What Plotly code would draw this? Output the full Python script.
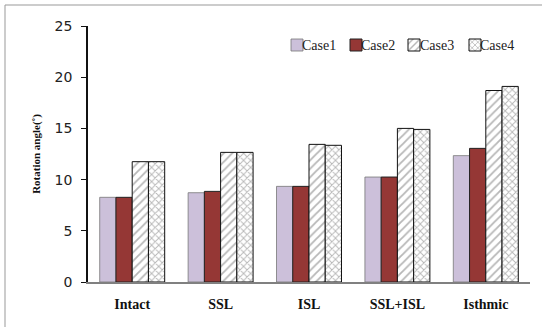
import plotly.graph_objects as go

categories = ["Intact", "SSL", "ISL", "SSL+ISL", "Isthmic"]
series_names = ["Case1", "Case2", "Case3", "Case4"]
case1 = [8.27, 8.72, 9.34, 10.25, 12.34]
case2 = [8.27, 8.85, 9.34, 10.25, 13.05]
case3 = [11.75, 12.66, 13.44, 15.0, 18.7]
case4 = [11.75, 12.66, 13.35, 14.9, 19.1]
y_ticks = [0, 5, 10, 15, 20, 25]

serif = "Liberation Serif, Times New Roman, serif"
sans = "DejaVu Sans, Verdana, sans-serif"

W, H = 542, 327
PL, PR, PT, PB = 88, 530, 26, 282          # plot area in window pixels
L, R, T, B = PL, W - PR, PT, H - PB
PW, PH = PR - PL, PB - PT

def px_x(p):
    return (p - PL) / PW

def px_y(p):
    return (PB - p) / PH

styles = [
    dict(color="#CCC0DA", line=dict(color="#777777", width=0.8)),
    dict(color="#953735", line=dict(color="#222222", width=1)),
    dict(color="white", line=dict(color="#111111", width=1),
         pattern=dict(shape="/", fgcolor="#707070", bgcolor="white", size=6, solidity=0.3)),
    dict(color="white", line=dict(color="#111111", width=1),
         pattern=dict(shape="x", fgcolor="#707070", bgcolor="white", size=5, solidity=0.35)),
]
legend_ids = ["legend", "legend2", "legend3", "legend4"]
swatch_centers = [294, 353, 411, 472]
text_left = [300, 359, 418, 478]

fig = go.Figure()
for vals, name, st, lg in zip([case1, case2, case3, case4], series_names, styles, legend_ids):
    fig.add_bar(x=categories, y=vals, name=" ", legendgroup=name, legend=lg,
                marker=st, hovertext=name)

legend_common = dict(orientation="h", yanchor="middle", xanchor="left",
                     font=dict(family=serif, size=2), itemwidth=30,
                     bgcolor="rgba(0,0,0,0)")
leg_layout = {}
for lg, cx in zip(legend_ids, swatch_centers):
    leg_layout[lg] = dict(legend_common, x=px_x(cx - 17), y=px_y(45))

annotations = [dict(text=n, xref="paper", yref="paper", x=px_x(tx), y=px_y(45),
                    xanchor="left", yanchor="middle", showarrow=False,
                    font=dict(family=serif, size=14, color="#222222"))
               for n, tx in zip(series_names, text_left)]

fig.update_layout(
    width=W, height=H,
    margin=dict(l=L, r=R, t=T, b=B, autoexpand=False),
    paper_bgcolor="white", plot_bgcolor="white",
    barmode="group", bargap=0.265, bargroupgap=0,
    showlegend=True,
    xaxis=dict(showline=True, linecolor="#808080", linewidth=1.5, ticks="",
               ticklabelstandoff=8,
               tickfont=dict(family=serif, size=14, color="#111111", weight="bold"),
               showgrid=False, fixedrange=True, automargin=False),
    yaxis=dict(range=[0, 25], tickvals=y_ticks, showline=True, linecolor="#111111",
               linewidth=1.5, ticks="outside", ticklen=5, tickcolor="#111111",
               showgrid=False, zeroline=False, ticklabelstandoff=6, automargin=False,
               tickfont=dict(family=sans, size=14, color="#222222"),
               title=dict(text="Rotation angle(˚)", standoff=12,
                          font=dict(family=serif, size=11, color="#111111", weight="bold"))),
    annotations=annotations,
    shapes=[dict(type="rect", xref="paper", yref="paper",
                 x0=px_x(5), x1=px_x(560), y0=px_y(340), y1=px_y(5),
                 line=dict(color="#999999", width=1), fillcolor="rgba(0,0,0,0)", layer="below")],
    **leg_layout,
)

fig.write_html("out.html", config={"displayModeBar": False},
               post_script="document.body.style.margin='0px';document.body.style.overflow='hidden';")
